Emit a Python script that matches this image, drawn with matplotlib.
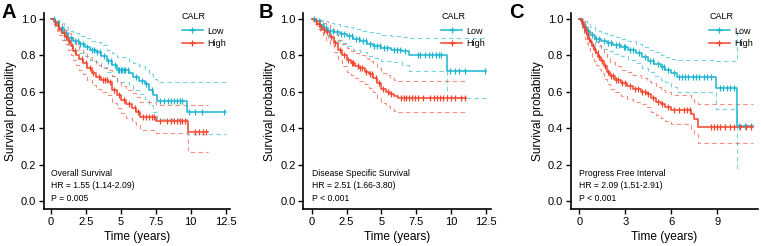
import numpy as np
import matplotlib
matplotlib.use("Agg")
import matplotlib.pyplot as plt
from matplotlib.lines import Line2D

plt.rcParams["font.family"] = ["Liberation Sans", "DejaVu Sans"]

LOW_COLOR = "#1CB4D0"
HIGH_COLOR = "#F4432B"

# -------------------------------
# Panel A: Overall Survival
# -------------------------------
a_low_t = [0, 0.3, 0.6, 0.9, 1.2, 1.6, 2.0, 2.4, 2.8, 3.2, 3.6, 4.0, 4.4, 4.7, 5.6, 5.9, 6.3, 6.7, 7.0, 7.3, 7.6, 9.7]
a_low_s = [1.0, 0.975, 0.95, 0.92, 0.895, 0.875, 0.86, 0.845, 0.83, 0.815, 0.795, 0.77, 0.745, 0.72, 0.70, 0.68, 0.66, 0.64, 0.61, 0.58, 0.548, 0.49]
a_low_hi = [1.0, 0.99, 0.975, 0.955, 0.935, 0.92, 0.905, 0.895, 0.88, 0.87, 0.855, 0.83, 0.81, 0.79, 0.77, 0.755, 0.74, 0.72, 0.695, 0.67, 0.655, 0.65]
a_low_lo = [1.0, 0.955, 0.92, 0.885, 0.855, 0.83, 0.81, 0.795, 0.775, 0.76, 0.735, 0.71, 0.685, 0.655, 0.635, 0.61, 0.585, 0.56, 0.525, 0.49, 0.45, 0.37]
a_low_cens = [0.2, 0.5, 0.8, 1.1, 1.4, 1.7, 1.9, 2.1, 2.3, 2.6, 2.9, 3.1, 3.3, 3.5, 3.8, 4.1, 4.3, 4.6, 4.8, 4.9,
              5.0, 5.1, 5.2, 5.3, 5.5, 6.1, 6.5, 6.8, 7.2, 7.8, 8.1, 8.4, 8.6, 8.8, 9.0, 9.2, 9.4, 9.9, 10.3, 10.8, 12.4]
a_low_end = 12.5

a_high_t = [0, 0.2, 0.4, 0.6, 0.8, 1.0, 1.2, 1.4, 1.6, 1.8, 2.0, 2.3, 2.6, 2.9, 3.2, 3.6, 4.1, 4.4, 4.7, 5.0, 5.4, 5.8, 6.1, 6.4, 7.55, 9.8]
a_high_s = [1.0, 0.98, 0.96, 0.94, 0.92, 0.90, 0.875, 0.85, 0.825, 0.80, 0.78, 0.755, 0.73, 0.70, 0.68, 0.665, 0.65, 0.61, 0.58, 0.555, 0.53, 0.51, 0.49, 0.46, 0.44, 0.38]
a_high_hi = [1.0, 0.995, 0.985, 0.97, 0.955, 0.94, 0.92, 0.9, 0.875, 0.855, 0.835, 0.815, 0.79, 0.765, 0.745, 0.73, 0.72, 0.685, 0.655, 0.63, 0.61, 0.59, 0.57, 0.545, 0.528, 0.525]
a_high_lo = [1.0, 0.965, 0.935, 0.91, 0.885, 0.86, 0.83, 0.80, 0.775, 0.745, 0.72, 0.695, 0.665, 0.635, 0.615, 0.60, 0.58, 0.54, 0.51, 0.485, 0.455, 0.435, 0.415, 0.39, 0.375, 0.27]
a_high_cens = [0.3, 0.5, 0.7, 0.9, 1.1, 1.3, 1.5, 1.7, 2.2, 2.5, 2.8, 3.0, 3.4, 3.7, 3.9, 4.0, 4.2, 4.5, 4.9, 5.2,
               5.6, 6.0, 6.2, 6.6, 6.8, 7.0, 7.2, 7.4, 7.8, 8.3, 8.6, 8.8, 9.0, 9.2, 9.4, 9.6, 10.3, 10.6, 10.9, 11.1]
a_high_end = 11.2

# -------------------------------
# Panel B: Disease Specific Survival
# -------------------------------
b_low_t = [0, 0.3, 0.6, 0.9, 1.2, 1.6, 2.0, 2.5, 3.0, 3.5, 4.0, 4.4, 5.0, 5.7, 6.5, 7.0, 9.7]
b_low_s = [1.0, 0.985, 0.965, 0.95, 0.935, 0.925, 0.915, 0.905, 0.89, 0.875, 0.86, 0.85, 0.84, 0.83, 0.82, 0.80, 0.715]
b_low_hi = [1.0, 1.0, 0.99, 0.985, 0.975, 0.97, 0.96, 0.955, 0.945, 0.935, 0.925, 0.92, 0.91, 0.905, 0.90, 0.895, 0.895]
b_low_lo = [1.0, 0.97, 0.94, 0.915, 0.895, 0.88, 0.865, 0.85, 0.83, 0.815, 0.795, 0.785, 0.77, 0.76, 0.745, 0.715, 0.565]
b_low_cens = [0.2, 0.5, 0.8, 1.0, 1.3, 1.5, 1.8, 2.1, 2.3, 2.7, 2.9, 3.2, 3.4, 3.7, 3.9, 4.2, 4.5, 4.7, 4.9, 5.2,
              5.4, 5.9, 6.1, 6.3, 6.7, 7.6, 7.8, 8.1, 8.4, 8.6, 8.9, 9.1, 9.3, 9.9, 10.3, 10.6, 11.0, 12.4]
b_low_end = 12.5

b_high_t = [0, 0.2, 0.4, 0.6, 0.8, 1.0, 1.3, 1.6, 1.9, 2.2, 2.5, 2.8, 3.1, 3.4, 3.8, 4.1, 4.4, 4.7, 5.0, 5.3, 5.6, 5.9, 6.2]
b_high_s = [1.0, 0.985, 0.97, 0.955, 0.94, 0.925, 0.9, 0.865, 0.83, 0.8, 0.775, 0.755, 0.74, 0.728, 0.71, 0.695, 0.675, 0.645, 0.615, 0.60, 0.585, 0.575, 0.567]
b_high_hi = [1.0, 1.0, 0.995, 0.985, 0.975, 0.965, 0.945, 0.915, 0.885, 0.86, 0.84, 0.82, 0.81, 0.8, 0.785, 0.77, 0.755, 0.73, 0.70, 0.69, 0.675, 0.665, 0.658]
b_high_lo = [1.0, 0.97, 0.945, 0.925, 0.905, 0.885, 0.855, 0.815, 0.775, 0.74, 0.71, 0.69, 0.675, 0.66, 0.64, 0.62, 0.60, 0.565, 0.535, 0.52, 0.505, 0.495, 0.49]
b_high_cens = [0.3, 0.5, 0.7, 0.9, 1.1, 1.4, 1.7, 2.0, 2.3, 2.6, 2.9, 3.0, 3.3, 3.5, 3.6, 3.9, 4.2, 4.3, 4.6, 4.8,
               5.1, 5.5, 5.7, 6.4, 6.6, 6.8, 7.0, 7.2, 7.4, 7.6, 8.0, 8.5, 8.8, 9.0, 9.2, 9.4, 9.7, 10.0, 10.3, 10.7, 11.0]
b_high_end = 11.1

# -------------------------------
# Panel C: Progress Free Interval
# -------------------------------
c_low_t = [0, 0.15, 0.3, 0.5, 0.7, 1.0, 1.4, 1.8, 2.2, 2.7, 3.2, 3.7, 4.1, 4.5, 4.9, 5.3, 5.6, 6.0, 6.4, 8.9, 10.3]
c_low_s = [1.0, 0.98, 0.955, 0.93, 0.91, 0.89, 0.875, 0.865, 0.855, 0.845, 0.83, 0.81, 0.79, 0.77, 0.75, 0.735, 0.72, 0.70, 0.678, 0.618, 0.41]
c_low_hi = [1.0, 1.0, 0.985, 0.97, 0.955, 0.935, 0.92, 0.91, 0.9, 0.89, 0.88, 0.86, 0.845, 0.83, 0.815, 0.8, 0.79, 0.78, 0.773, 0.77, 0.93]
c_low_lo = [1.0, 0.955, 0.925, 0.895, 0.87, 0.85, 0.835, 0.82, 0.805, 0.795, 0.775, 0.755, 0.73, 0.71, 0.685, 0.665, 0.65, 0.625, 0.60, 0.505, 0.18]
c_low_cens = [0.2, 0.4, 0.6, 0.8, 1.1, 1.3, 1.6, 1.9, 2.1, 2.4, 2.6, 2.9, 3.0, 3.3, 3.5, 3.9, 4.3, 4.6, 4.8, 5.1,
              5.4, 5.5, 5.8, 6.2, 6.5, 6.7, 6.9, 7.1, 7.4, 7.6, 7.8, 8.1, 8.3, 8.6, 9.2, 9.4, 9.6, 9.8, 10.1, 10.4, 10.8, 11.2]
c_low_end = 11.3
c_low_ci_end = 10.45

c_high_t = [0, 0.1, 0.2, 0.3, 0.4, 0.5, 0.6, 0.7, 0.8, 0.95, 1.1, 1.25, 1.4, 1.6, 1.8, 2.0, 2.3, 2.7, 3.1, 3.5,
            4.0, 4.4, 4.7, 5.0, 5.3, 5.6, 6.0, 7.3, 7.5, 7.75]
c_high_s = [1.0, 0.985, 0.97, 0.95, 0.93, 0.91, 0.89, 0.87, 0.85, 0.83, 0.81, 0.79, 0.77, 0.74, 0.71, 0.685, 0.665, 0.645, 0.63, 0.615,
            0.60, 0.585, 0.565, 0.545, 0.53, 0.515, 0.497, 0.475, 0.45, 0.408]
c_high_hi = [1.0, 1.0, 0.995, 0.985, 0.97, 0.955, 0.94, 0.925, 0.91, 0.89, 0.875, 0.855, 0.84, 0.81, 0.785, 0.76, 0.74, 0.72, 0.705, 0.69,
             0.675, 0.66, 0.645, 0.625, 0.61, 0.595, 0.58, 0.565, 0.545, 0.532]
c_high_lo = [1.0, 0.97, 0.945, 0.92, 0.89, 0.865, 0.84, 0.815, 0.79, 0.77, 0.745, 0.725, 0.70, 0.67, 0.64, 0.615, 0.595, 0.575, 0.56, 0.545,
             0.53, 0.515, 0.49, 0.47, 0.455, 0.44, 0.42, 0.395, 0.365, 0.316]
c_high_cens = [0.15, 0.25, 0.35, 0.45, 0.55, 0.65, 0.75, 0.9, 1.0, 1.2, 1.3, 1.5, 1.7, 1.9, 2.1, 2.2, 2.4, 2.5, 2.8, 3.0,
               3.3, 3.6, 3.8, 4.1, 4.3, 4.5, 4.8, 5.1, 5.4, 5.8, 6.2, 6.5, 6.8, 7.0, 7.2, 8.6, 8.8, 9.0, 9.2, 9.5,
               9.8, 10.1, 10.5, 10.9, 11.2]
c_high_end = 11.3

panels = [
    dict(letter="A", title="Overall Survival", hr="HR = 1.55 (1.14-2.09)", p="P = 0.005",
         low=(a_low_t, a_low_s, a_low_hi, a_low_lo, a_low_cens, a_low_end, a_low_end),
         high=(a_high_t, a_high_s, a_high_hi, a_high_lo, a_high_cens, a_high_end, a_high_end),
         xticks=[0, 2.5, 5, 7.5, 10, 12.5], xlabels=["0", "2.5", "5", "7.5", "10", "12.5"],
         xlim=(-0.5, 12.81), rect=[44, 13, 186, 196], letter_x=1),
    dict(letter="B", title="Disease Specific Survival", hr="HR = 2.51 (1.66-3.80)", p="P < 0.001",
         low=(b_low_t, b_low_s, b_low_hi, b_low_lo, b_low_cens, b_low_end, b_low_end),
         high=(b_high_t, b_high_s, b_high_hi, b_high_lo, b_high_cens, b_high_end, b_high_end),
         xticks=[0, 2.5, 5, 7.5, 10, 12.5], xlabels=["0", "2.5", "5", "7.5", "10", "12.5"],
         xlim=(-0.6, 12.84), rect=[303.3, 13, 187.4, 196], letter_x=259),
    dict(letter="C", title="Progress Free Interval", hr="HR = 2.09 (1.51-2.91)", p="P < 0.001",
         low=(c_low_t, c_low_s, c_low_hi, c_low_lo, c_low_cens, c_low_end, c_low_ci_end),
         high=(c_high_t, c_high_s, c_high_hi, c_high_lo, c_high_cens, c_high_end, c_high_end),
         xticks=[0, 3, 6, 9], xlabels=["0", "3", "6", "9"],
         xlim=(-0.54, 11.65), rect=[571, 13, 187, 196], letter_x=509),
]

W, H = 761, 246
fig = plt.figure(figsize=(W / 100, H / 100), dpi=100)


def draw_group(ax, data, color):
    t, s, hi, lo, cens, end, ci_end = data
    t_full = list(t) + [end]
    ax.step(t_full, list(s) + [s[-1]], where="post", color=color, lw=1.1, zorder=3)
    t_ci = list(t) + [ci_end]
    ax.step(t_ci, list(hi) + [hi[-1]], where="post", color=color, lw=0.8,
            ls=(0, (4, 3)), alpha=0.6, zorder=2)
    ax.step(t_ci, list(lo) + [lo[-1]], where="post", color=color, lw=0.8,
            ls=(0, (4, 3)), alpha=0.6, zorder=2)
    # censor marks sit on the step curve
    idx = np.searchsorted(t, cens, side="right") - 1
    ax.plot(cens, np.asarray(s)[idx], ls="none", marker="|", ms=4.5, mew=0.9,
            color=color, zorder=4)


for p in panels:
    x0, y0, w, h = p["rect"]
    ax = fig.add_axes([x0 / W, 1 - (y0 + h) / H, w / W, h / H])
    draw_group(ax, p["low"], LOW_COLOR)
    draw_group(ax, p["high"], HIGH_COLOR)

    ax.set_xlim(*p["xlim"])
    ax.set_ylim(-0.044, 1.031)
    ax.set_xticks(p["xticks"])
    ax.set_xticklabels(p["xlabels"])
    ax.set_yticks([0, 0.2, 0.4, 0.6, 0.8, 1.0])
    ax.set_yticklabels(["0.0", "0.2", "0.4", "0.6", "0.8", "1.0"])
    for side in ["top", "right"]:
        ax.spines[side].set_visible(False)
    for side in ["left", "bottom"]:
        ax.spines[side].set_linewidth(1.2)
    ax.tick_params(direction="out", length=3.5, width=1.0, labelsize=8,
                   colors="black", pad=2)
    ax.set_xlabel("Time (years)", fontsize=8.6, labelpad=3)
    ax.set_ylabel("Survival probability", fontsize=8.6, labelpad=3)

    ax.text(0, 0.152, p["title"], fontsize=6.2, va="center", ha="left")
    ax.text(0, 0.084, p["hr"], fontsize=6.2, va="center", ha="left")
    ax.text(0, 0.013, p["p"], fontsize=6.2, va="center", ha="left")

    handles = [Line2D([], [], color=LOW_COLOR, lw=1.1, marker="+", ms=5, mew=0.9),
               Line2D([], [], color=HIGH_COLOR, lw=1.1, marker="+", ms=5, mew=0.9)]
    leg = ax.legend(handles, ["Low", "High"], title="CALR", loc="upper left",
                    bbox_to_anchor=((x0 + 138) / W, 1 - 12 / H),
                    bbox_transform=fig.transFigure, frameon=False, fontsize=6.5,
                    title_fontsize=6.5, handlelength=2.3, handletextpad=0.5,
                    labelspacing=0.35, borderaxespad=0, borderpad=0)
    leg._legend_box.align = "left"
    leg._legend_box.sep = 4

    fig.text(p["letter_x"] / W, 1 - 3 / H, p["letter"], fontsize=14.5,
             fontweight="bold", va="top", ha="left")

fig.savefig("out.png", dpi=100)
